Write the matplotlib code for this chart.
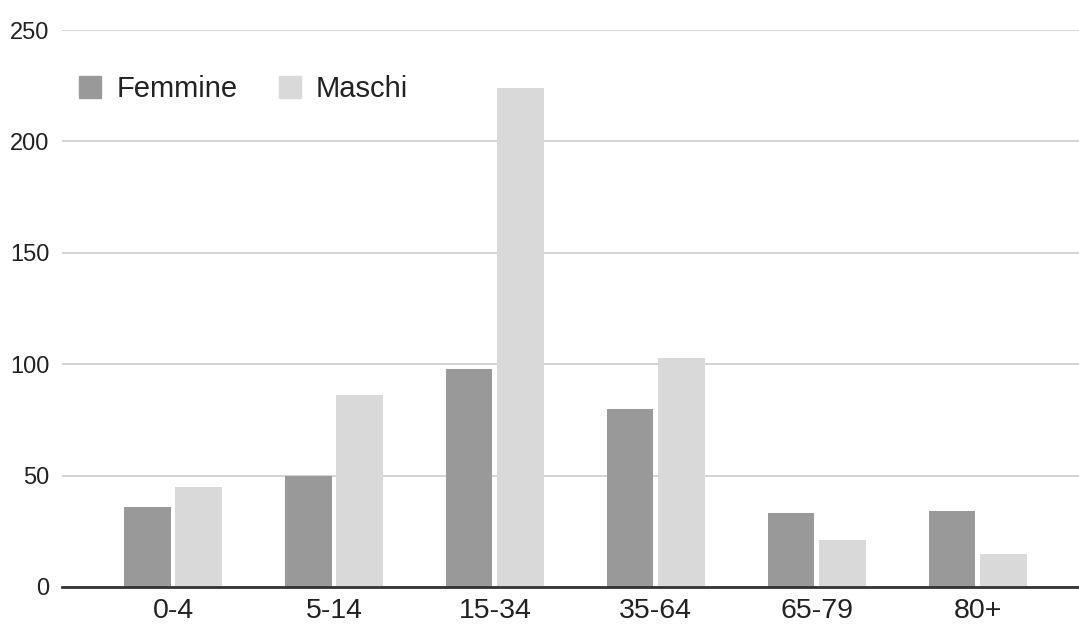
import matplotlib.pyplot as plt
import numpy as np
from matplotlib.lines import Line2D

plt.rcParams['font.family'] = ['Liberation Sans', 'DejaVu Sans']

categories = ["0-4", "5-14", "15-34", "35-64", "65-79", "80+"]
femmine = [36, 50, 98, 80, 33, 34]
maschi = [45, 86, 224, 103, 21, 15]
series_names = ["Femmine", "Maschi"]
colors = ["#999999", "#d9d9d9"]

fig = plt.figure(figsize=(10.79, 6.28), dpi=100)
ax = fig.add_axes([0.0575, 0.0653, 0.9425, 0.8869])

x = np.arange(len(categories))
w = 0.29
gap = 0.03
ax.bar(x - (w + gap) / 2, femmine, w, color=colors[0], zorder=3)
ax.bar(x + (w + gap) / 2, maschi, w, color=colors[1], zorder=3)

ax.set_ylim(0, 250)
ax.set_yticks([0, 50, 100, 150, 200, 250])
ax.set_xlim(-0.69, 5.63)
ax.set_xticks(x)
ax.set_xticklabels(categories, fontsize=20.5, color="#222222")
ax.tick_params(axis='y', labelsize=17, colors="#222222", length=0, pad=9)
ax.tick_params(axis='x', length=0, pad=8)
ax.yaxis.grid(True, color="#cccccc", linewidth=1.2, zorder=0)
for s in ["top", "right", "left"]:
    ax.spines[s].set_visible(False)
ax.spines["bottom"].set_color("#333333")
ax.spines["bottom"].set_linewidth(2)
ax.spines["bottom"].set_zorder(4)

handles = [Line2D([], [], marker='s', linestyle='none', markersize=16,
                  markerfacecolor=c, markeredgecolor=c) for c in colors]
leg = fig.legend(handles, series_names, loc='center left',
                 bbox_to_anchor=(0.059, 0.858), frameon=False, fontsize=21,
                 ncol=2, handletextpad=0.4, columnspacing=1.3, handlelength=1.0,
                 borderaxespad=0)
for t in leg.get_texts():
    t.set_color("#222222")

fig.savefig("out.png", dpi=100)
